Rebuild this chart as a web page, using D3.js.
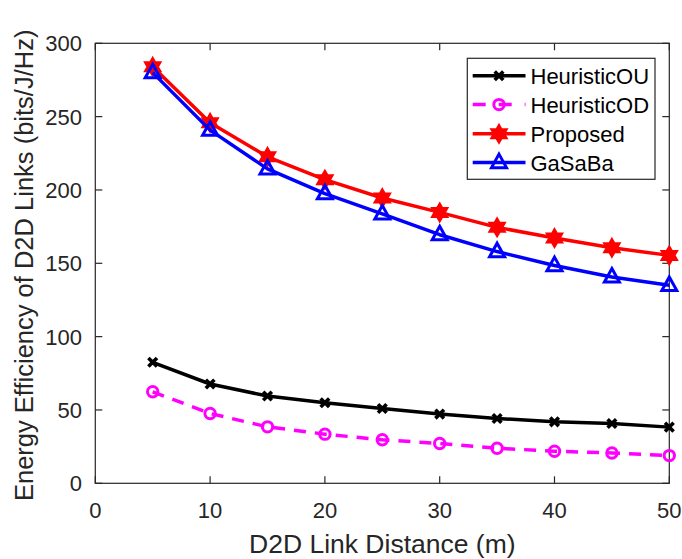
<!DOCTYPE html>
<html>
<head>
<meta charset="utf-8">
<script src="https://cdn.jsdelivr.net/npm/d3@7"></script>
<style>
html,body{margin:0;padding:0;background:#fff;}
svg{display:block;font-family:"Liberation Sans",Arial,sans-serif;}
</style>
</head>
<body>
<svg id="chart" width="682" height="559"></svg>
<script>
const distances = [5, 10, 15, 20, 25, 30, 35, 40, 45, 50];
const heuristicOU = [82.5, 67.7, 59.5, 54.9, 51.0, 47.2, 44.2, 41.9, 40.8, 38.3];
const heuristicOD = [62.4, 47.6, 38.5, 33.5, 29.7, 27.1, 23.9, 21.9, 20.7, 18.9];
const proposed = [284.0, 245.8, 222.6, 207.0, 194.5, 184.7, 174.5, 167.2, 160.6, 155.4];
const gasaba = [280.0, 240.8, 214.4, 197.5, 183.7, 169.5, 158.0, 148.5, 140.7, 135.0];
const xTicks = [0, 10, 20, 30, 40, 50];
const yTicks = [0, 50, 100, 150, 200, 250, 300];
const seriesNames = ["HeuristicOU", "HeuristicOD", "Proposed", "GaSaBa"];

const svg = d3.select("#chart");
const L = 95.3, T = 43.3, R = 669.3, B = 483.3;
const x = d3.scaleLinear().domain([0, 50]).range([L, R]);
const y = d3.scaleLinear().domain([0, 300]).range([B, T]);
const axisColor = "#262626";

function hexagram(r) {
  const pts = [];
  const ri = r / Math.sqrt(3);
  for (let i = 0; i < 12; i++) {
    const a = -Math.PI / 2 + i * Math.PI / 6;
    const rr = i % 2 === 0 ? r : ri;
    pts.push([rr * Math.cos(a), rr * Math.sin(a)]);
  }
  return "M" + pts.map(p => p[0].toFixed(2) + "," + p[1].toFixed(2)).join("L") + "Z";
}
function triangle(s) {
  const h = s * 0.9;
  return `M0,${-h * 0.62}L${s / 2},${h * 0.38}L${-s / 2},${h * 0.38}Z`;
}

const series = [
  {name: seriesNames[0], values: heuristicOU, color: "#000000", dash: null, marker: "x"},
  {name: seriesNames[1], values: heuristicOD, color: "#ff00ff", dash: "12,9", marker: "o"},
  {name: seriesNames[2], values: proposed, color: "#ff0000", dash: null, marker: "hex"},
  {name: seriesNames[3], values: gasaba, color: "#0000ff", dash: null, marker: "tri"}
];

function drawMarker(g, type, color) {
  if (type === "x") {
    g.append("path").attr("d", "M-4.3,-4.3L4.3,4.3M-4.3,4.3L4.3,-4.3")
      .attr("stroke", color).attr("stroke-width", 3.6).attr("fill", "none");
  } else if (type === "o") {
    g.append("circle").attr("r", 5.2).attr("fill", "none")
      .attr("stroke", color).attr("stroke-width", 3);
  } else if (type === "hex") {
    g.append("path").attr("d", hexagram(9.5)).attr("fill", color)
      .attr("stroke", color).attr("stroke-width", 1.5);
  } else if (type === "tri") {
    g.append("path").attr("d", triangle(15)).attr("fill", "none")
      .attr("stroke", color).attr("stroke-width", 3).attr("stroke-linejoin", "miter");
  }
}

const gAx = svg.append("g");
gAx.append("rect").attr("x", L).attr("y", T).attr("width", R - L).attr("height", B - T)
  .attr("fill", "none").attr("stroke", axisColor).attr("stroke-width", 1.2);

xTicks.forEach(t => {
  const xp = x(t);
  gAx.append("line").attr("x1", xp).attr("x2", xp).attr("y1", B).attr("y2", B - 7)
    .attr("stroke", axisColor).attr("stroke-width", 1.2);
  gAx.append("line").attr("x1", xp).attr("x2", xp).attr("y1", T).attr("y2", T + 7)
    .attr("stroke", axisColor).attr("stroke-width", 1.2);
  gAx.append("text").attr("x", xp).attr("y", 517.5).attr("text-anchor", "middle")
    .attr("font-size", 22).attr("fill", axisColor).text(t);
});
yTicks.forEach(t => {
  const yp = y(t);
  gAx.append("line").attr("x1", L).attr("x2", L + 7).attr("y1", yp).attr("y2", yp)
    .attr("stroke", axisColor).attr("stroke-width", 1.2);
  gAx.append("line").attr("x1", R).attr("x2", R - 7).attr("y1", yp).attr("y2", yp)
    .attr("stroke", axisColor).attr("stroke-width", 1.2);
  gAx.append("text").attr("x", 82).attr("y", yp + 8).attr("text-anchor", "end")
    .attr("font-size", 22).attr("fill", axisColor).text(t);
});

svg.append("text").attr("x", (L + R) / 2).attr("y", 553).attr("text-anchor", "middle")
  .attr("font-size", 26.5).attr("fill", axisColor).text("D2D Link Distance (m)");
svg.append("text").attr("transform", `translate(33,${(T + B) / 2 + 2}) rotate(-90)`)
  .attr("text-anchor", "middle").attr("font-size", 25.5).attr("fill", axisColor)
  .text("Energy Efficiency of D2D Links (bits/J/Hz)");

const line = d3.line().x(d => x(d[0])).y(d => y(d[1]));
series.forEach(s => {
  const data = distances.map((d, i) => [d, s.values[i]]);
  svg.append("path").datum(data).attr("d", line).attr("fill", "none")
    .attr("stroke", s.color).attr("stroke-width", 3.5)
    .attr("stroke-dasharray", s.dash).attr("stroke-linejoin", "round");
  data.forEach(d => {
    const g = svg.append("g").attr("transform", `translate(${x(d[0])},${y(d[1])})`);
    drawMarker(g, s.marker, s.color);
  });
});

const lg = svg.append("g");
lg.append("rect").attr("x", 467.3).attr("y", 58.3).attr("width", 187.7).attr("height", 121)
  .attr("fill", "#fff").attr("stroke", axisColor).attr("stroke-width", 1.2);
const rowY = [75.7, 104.6, 133.8, 162.5];
series.forEach((s, i) => {
  const ry = rowY[i];
  lg.append("line").attr("x1", 472.7).attr("x2", 525.5).attr("y1", ry).attr("y2", ry)
    .attr("stroke", s.color).attr("stroke-width", 3.5).attr("stroke-dasharray", s.dash ? "13,13" : null);
  const g = lg.append("g").attr("transform", `translate(499,${ry})`);
  drawMarker(g, s.marker, s.color);
  lg.append("text").attr("x", 530.5).attr("y", ry + 8).attr("font-size", 22)
    .attr("fill", "#000").text(s.name);
});
</script>
</body>
</html>
